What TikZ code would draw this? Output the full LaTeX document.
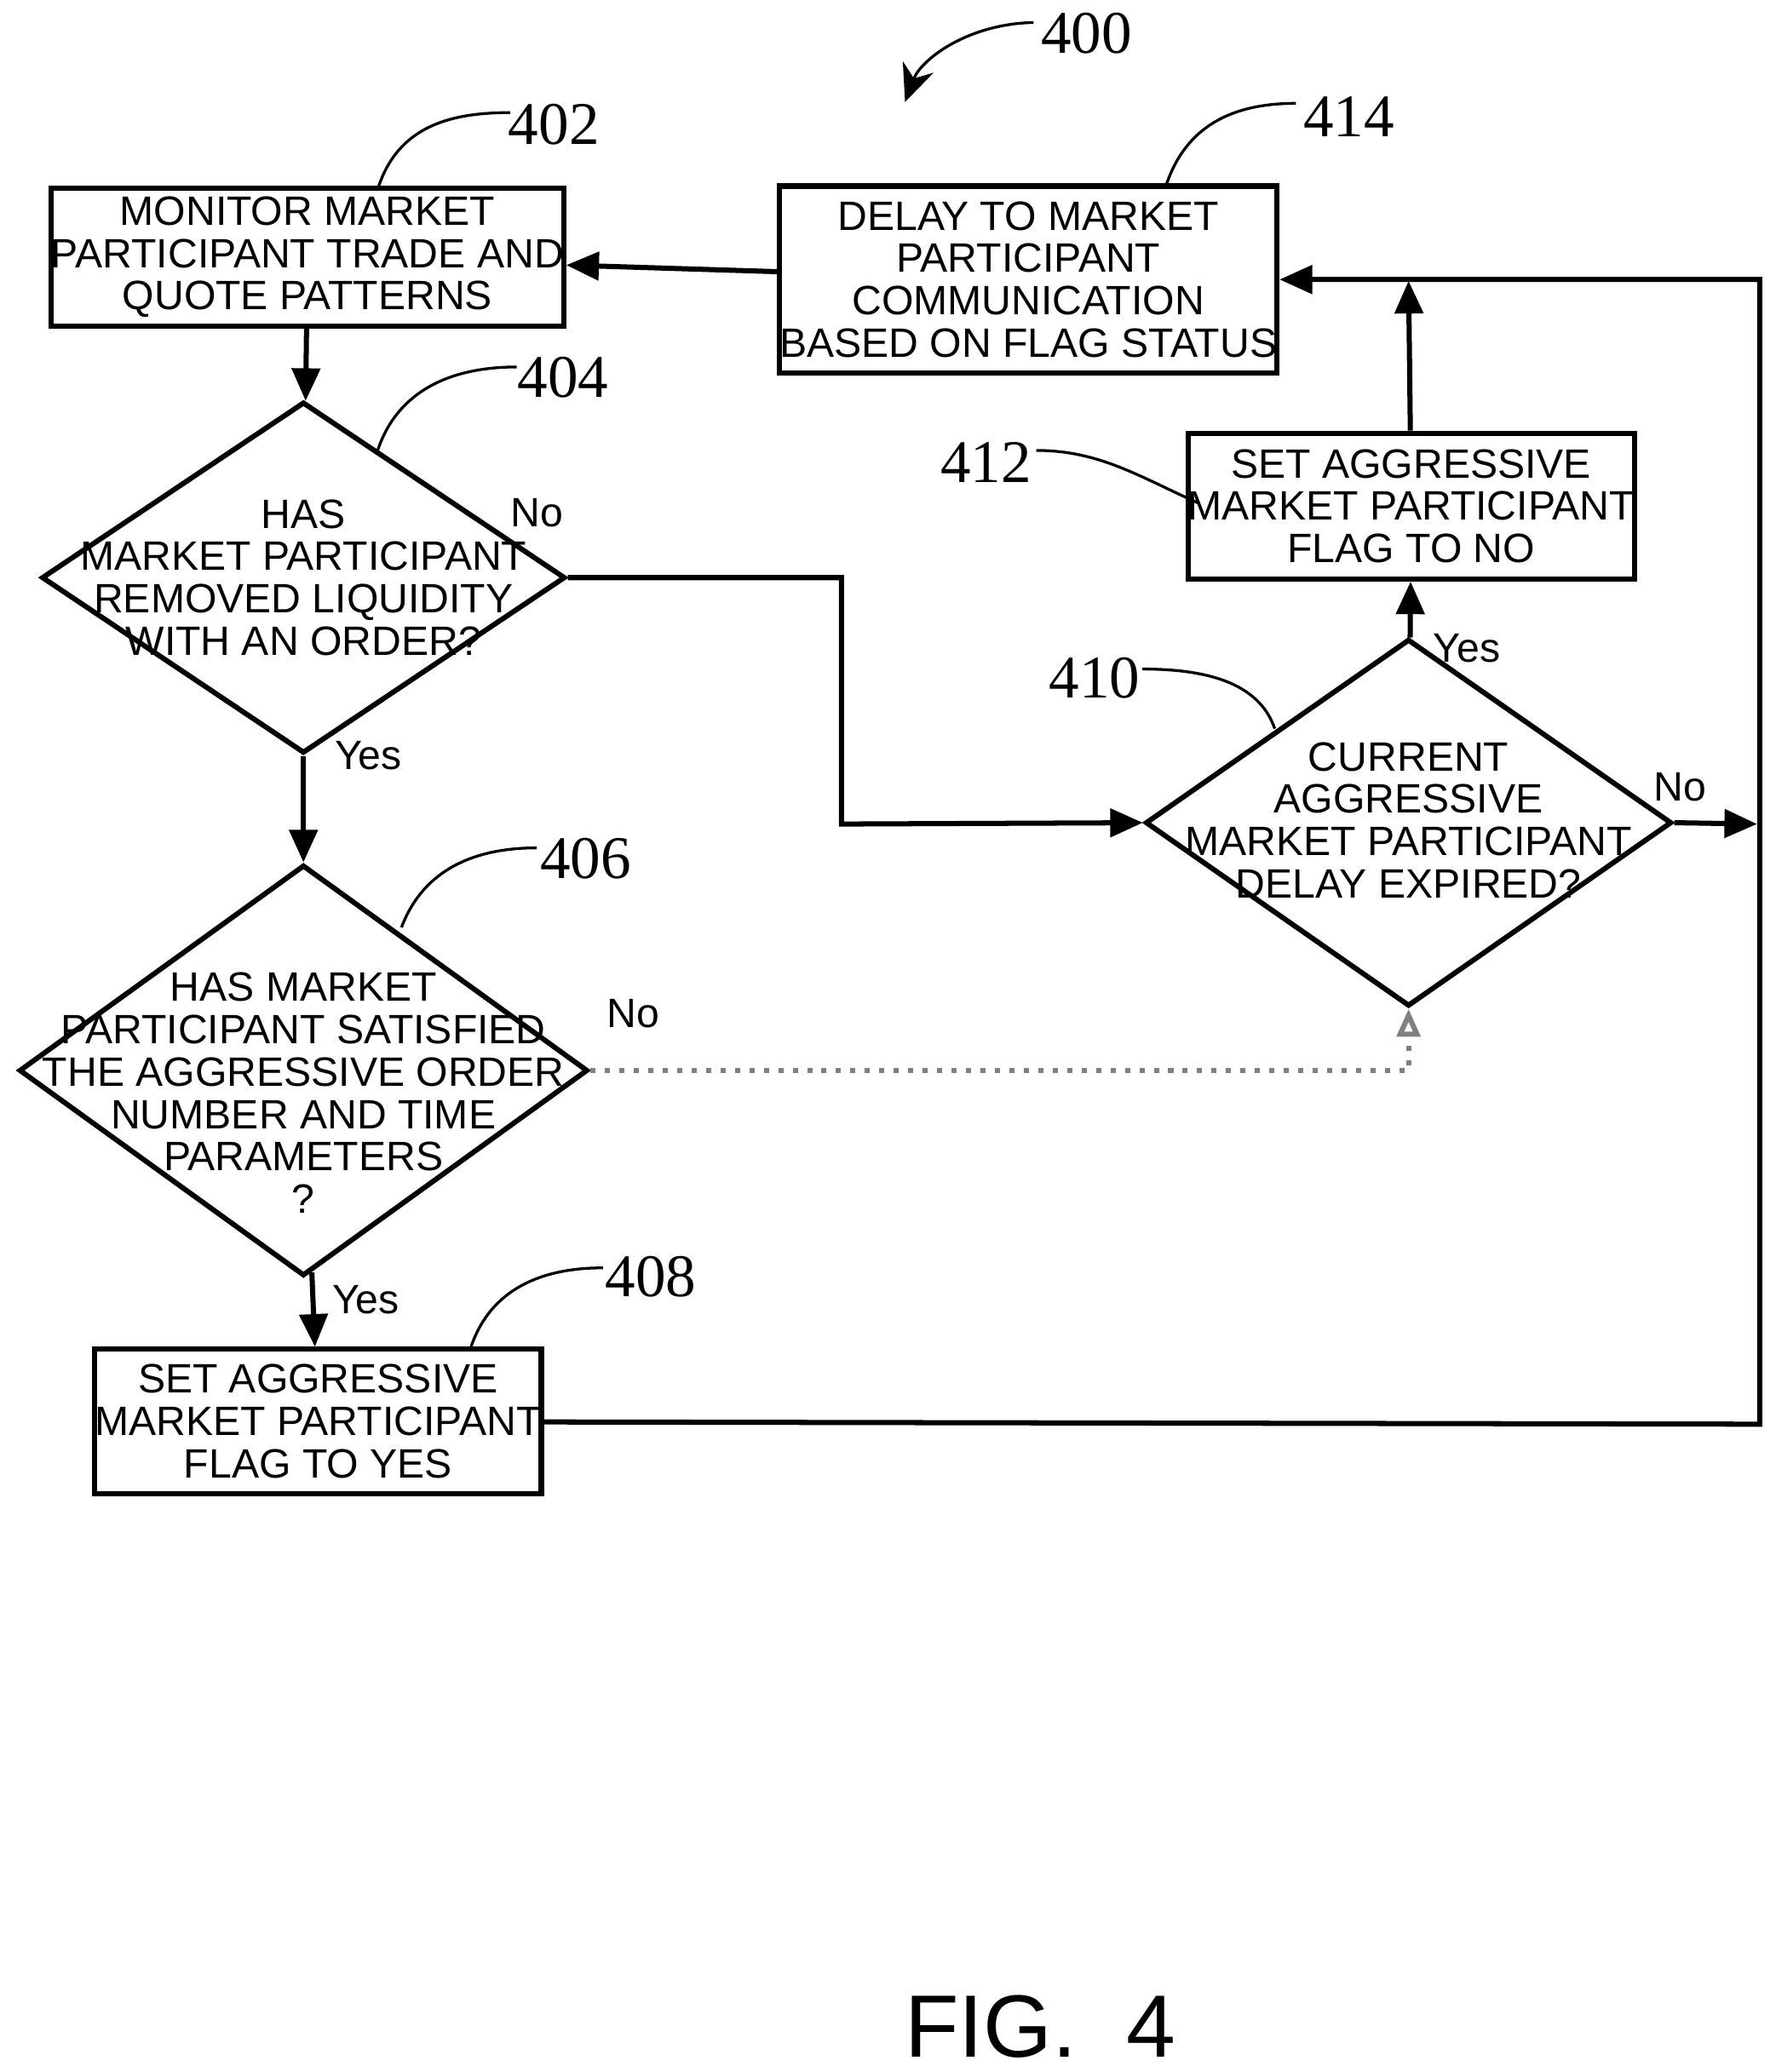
\documentclass[tikz,border=0pt]{standalone}
\usepackage{fontspec}
\setmainfont{Liberation Sans}
\newfontfamily\refnum{Liberation Serif}
\usetikzlibrary{shapes.geometric, arrows.meta, positioning}

\begin{document}
\begin{tikzpicture}[
    x=0.01cm, y=-0.01cm,
    % Step box
    stepbox/.style={
        rectangle,
        draw=black,
        line width=1.1pt,
        inner sep=0pt,
        align=center,
        font=\fontsize{8.8}{9.1}\selectfont
    },
    % Decision diamond
    decision/.style={
        diamond,
        draw=black,
        line width=1.1pt,
        inner sep=0pt
    },
    dtext/.style={
        align=center,
        font=\fontsize{8.8}{9.1}\selectfont
    },
    % Arrow style
    arrow/.style={
        -{Triangle[length=7pt,width=6pt]},
        line width=1.1pt
    },
    dimarrow/.style={
        -{Triangle[open,length=6pt,width=5pt]},
        gray,
        line width=1.1pt,
        dotted
    },
    lbl/.style={font=\fontsize{8.8}{10}\selectfont},
    refno/.style={font=\refnum\fontsize{13}{14}\selectfont},
    leader/.style={line width=0.6pt}
]
\useasboundingbox (0,0) rectangle (1340,1564);

% === Boxes ===
\node[stepbox, minimum width=3.74cm, minimum height=1.04cm] (s402) at (232,194)
    {MONITOR MARKET\\PARTICIPANT TRADE AND\\QUOTE PATTERNS};
\node[stepbox, minimum width=3.40cm, minimum height=1.41cm] (s414) at (776,211)
    {DELAY TO MARKET\\PARTICIPANT\\COMMUNICATION\\BASED ON FLAG STATUS};
\node[stepbox, minimum width=3.20cm, minimum height=1.10cm] (s412) at (1065,382)
    {SET AGGRESSIVE\\MARKET PARTICIPANT\\FLAG TO NO};
\node[stepbox, minimum width=3.21cm, minimum height=1.09cm] (s408) at (240,1073)
    {SET AGGRESSIVE\\MARKET PARTICIPANT\\FLAG TO YES};

% === Decisions ===
\node[decision, minimum width=3.95cm, minimum height=2.65cm] (d404) at (229,436) {};
\node[dtext] (t404) at (229,436)
    {HAS\\MARKET PARTICIPANT\\REMOVED LIQUIDITY\\WITH AN ORDER?};
\node[decision, minimum width=4.29cm, minimum height=3.10cm] (d406) at (229,808) {};
\node[dtext] (t406) at (229,825)
    {HAS MARKET\\PARTICIPANT SATISFIED\\THE AGGRESSIVE ORDER\\NUMBER AND TIME\\PARAMETERS\\?};
\node[decision, minimum width=3.97cm, minimum height=2.77cm] (d410) at (1063,621) {};
\node[dtext] (t410) at (1063,619)
    {CURRENT\\AGGRESSIVE\\MARKET PARTICIPANT\\DELAY EXPIRED?};

% === Connectors ===
\coordinate (rtop) at (1328,211);
\coordinate (rbot) at (1328,1075);
\coordinate (rmid) at (1326,622);
\coordinate (join) at (1063,212);

\draw[arrow] (s402) -- (d404);
\draw[arrow] (d404) -- (d406);
\draw[arrow] (d406) -- (s408);
\draw[arrow] (d410) -- (s412);
\draw[arrow] (s412) -- (join);
\draw[arrow] (s414) -- (s402);
\draw[arrow] (s408) -- (rbot) -- (rtop) -- (s414);
\draw[arrow] (d410.east) -- (rmid);
\draw[arrow] (d404.east) -| (635,622) -- (d410.west);
\draw[dimarrow] (d406.east) -| (d410.south);

% === Branch labels ===
\node[lbl] (n404) at (405,387) {No};
\node[lbl] (y404) at (278,570) {Yes};
\node[lbl] (n406) at (478,765) {No};
\node[lbl] (y406) at (276,981) {Yes};
\node[lbl] (y410) at (1107,489) {Yes};
\node[lbl] (n410) at (1268,594) {No};

% === Reference numerals ===
\node[refno] (r400) at (820,25) {400};
\draw[leader, -{Stealth[length=8pt,width=7pt]}] (780,17) .. controls (730,18) and (695,45) .. (683,77);
\node[refno] (r402) at (418,94) {402};
\draw[leader] (285,143) .. controls (300,95) and (340,85) .. (385,85);
\node[refno] (r404) at (425,285) {404};
\draw[leader] (285,340) .. controls (300,295) and (340,277) .. (390,277);
\node[refno] (r406) at (442,648) {406};
\draw[leader] (303,700) .. controls (320,655) and (360,640) .. (405,640);
\node[refno] (r408) at (491,964) {408};
\draw[leader] (355,1018) .. controls (370,972) and (410,957) .. (455,957);
\node[refno] (r410) at (826,512) {410};
\draw[leader] (962,550) .. controls (950,515) and (910,505) .. (862,505);
\node[refno] (r412) at (744,349) {412};
\draw[leader] (905,380) .. controls (860,360) and (830,340) .. (782,340);
\node[refno] (r414) at (1018,88) {414};
\draw[leader] (880,140) .. controls (895,95) and (930,78) .. (978,78);

\node[font=\fontsize{19}{22}\selectfont] (fig) at (785,1530) {FIG.\ \ 4};
\end{tikzpicture}
\end{document}
